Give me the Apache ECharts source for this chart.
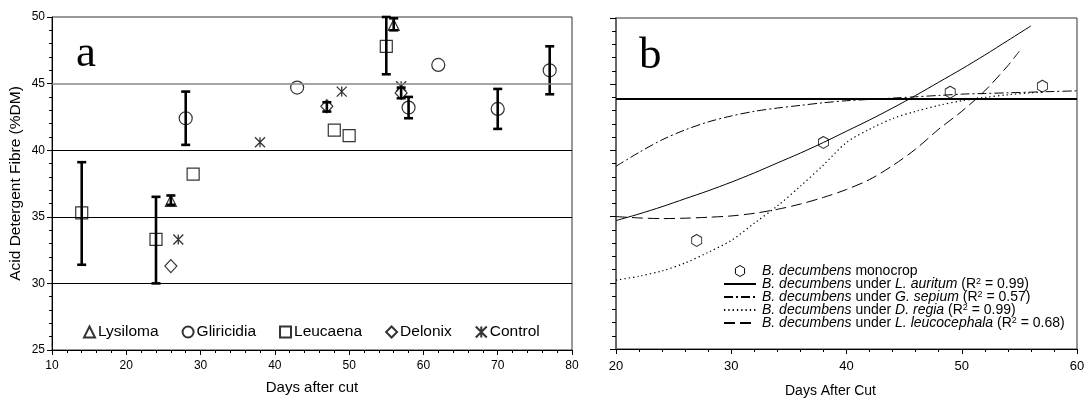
<!DOCTYPE html>
<html><head><meta charset="utf-8">
<script src="https://cdn.jsdelivr.net/npm/echarts@6/dist/echarts.min.js"></script>
<style>html,body{margin:0;padding:0;background:#fff}#c{width:1089px;height:403px}</style>
</head><body><div id="c"></div>
<script>
// ---------- Panel a data ----------
const lysiloma   = [[26,36.2],[56,49.4]];
const gliricidia = [[28,42.4],[43,44.7],[58,43.2],[62,46.4],[70,43.1],[77,46.0]];
const leucaena   = [[14,35.3],[24,33.3],[29,38.2],[48,41.5],[50,41.1],[55,47.8]];
const delonix    = [[26,31.3],[47,43.3],[57,44.3]];
const control    = [[27,33.3],[38,40.6],[49,44.4],[57,44.8]];
// [x, low, high]
const errorBarsA = [[14,31.4,39.1],[24,30.0,36.5],[26,35.9,36.6],[28,40.4,44.4],[47,42.9,43.6],
                    [55,45.7,50.0],[56,49.0,49.9],[57,43.9,44.7],[58,42.4,44.0],[70,41.6,44.6],[77,44.2,47.8]];
const gridLinesA = [30,35,40,45];
const legendNamesA = ['Lysiloma','Gliricidia','Leucaena','Delonix','Control'];

// ---------- Panel b data ----------
const monocrop = [[27,33.2],[38,40.6],[49,44.4],[57,44.85]];
const monocropMean = 43.9;
const auritum = [[20,34.7],[22,35.2],[24,35.75],[26,36.35],[28,36.95],[30,37.6],[32,38.3],[34,39.05],[36,39.8],
                 [38,40.6],[40,41.45],[42,42.3],[44,43.2],[46,44.15],[48,45.15],[50,46.15],[52,47.2],[54,48.3],[56,49.4]];
const sepium = [[20,38.8],[22,39.85],[24,40.8],[26,41.55],[28,42.15],[30,42.6],[32,42.95],[34,43.2],[36,43.4],
                [38,43.6],[40,43.75],[42,43.85],[44,43.95],[46,44.05],[48,44.15],[50,44.25],[52,44.3],[54,44.35],
                [56,44.4],[58,44.45],[60,44.5]];
const regia = [[20,30.2],[22,30.5],[24,30.9],[26,31.5],[28,32.3],[30,33.2],[32,34.5],[34,35.8],[36,37.3],
               [38,38.9],[40,40.6],[42,41.6],[44,42.4],[46,42.95],[48,43.4],[50,43.75],[52,44.0],[54,44.2],
               [56,44.35],[57,44.4]];
const leucocephala = [[20,35.0],[22,34.9],[24,34.85],[26,34.88],[28,34.95],[30,35.05],[32,35.25],[34,35.55],
                      [36,35.95],[38,36.45],[40,37.05],[42,37.8],[44,38.85],[46,40.1],[48,41.6],[50,42.95],
                      [52,44.5],[54,46.4],[55,47.5]];
const legendTextB = {
  'monocrop':     '{i|B. decumbens} monocrop',
  'auritum':      '{i|B. decumbens} under {i|L. auritum} (R{s|2} = 0.99)',
  'sepium':       '{i|B. decumbens} under {i|G. sepium} (R{s|2} = 0.57)',
  'regia':        '{i|B. decumbens} under {i|D. regia} (R{s|2} = 0.99)',
  'leucocephala': '{i|B. decumbens} under {i|L. leucocephala} (R{s|2} = 0.68)'
};

const F = 'Liberation Sans, Arial, sans-serif';
const hexPath = 'path://M5,0L10,3L10,9L5,12L0,9L0,3Z';
const starPath = 'path://M0,0L10,10M10,0L0,10M5,0L5,10';
const hollow = {color:'rgba(255,255,255,0)', borderColor:'#000', borderWidth:1.2};

const chart = echarts.init(document.getElementById('c'), null, {renderer:'canvas'});

function errRender(params, api){
  const x = api.value(0), lo = api.value(1), hi = api.value(2);
  const p1 = api.coord([x, lo]), p2 = api.coord([x, hi]);
  const w = 4.5;
  const st = {stroke:'#000', lineWidth:2.6};
  return {type:'group', children:[
    {type:'line', shape:{x1:p1[0],y1:p1[1],x2:p2[0],y2:p2[1]}, style:st},
    {type:'line', shape:{x1:p1[0]-w,y1:p1[1],x2:p1[0]+w,y2:p1[1]}, style:st},
    {type:'line', shape:{x1:p2[0]-w,y1:p2[1],x2:p2[0]+w,y2:p2[1]}, style:st}
  ]};
}

const option = {
  animation:false,
  backgroundColor:'#fff',
  title:[
    {text:'a', left:71, top:27, textStyle:{fontFamily:'Liberation Serif, Times New Roman, serif', fontSize:45, fontWeight:'normal', color:'#000'}},
    {text:'b', left:634, top:29, textStyle:{fontFamily:'Liberation Serif, Times New Roman, serif', fontSize:45, fontWeight:'normal', color:'#000'}}
  ],
  grid:[
    {left:52, top:17, width:520, height:333, show:true, borderColor:'#333', borderWidth:1, backgroundColor:'rgba(0,0,0,0)'},
    {left:616, top:18, width:461, height:334, show:true, borderColor:'#333', borderWidth:1, backgroundColor:'rgba(0,0,0,0)'}
  ],
  legend:[
    {
      data: legendNamesA,
      left:78, top:319, orient:'horizontal', itemGap:23, itemWidth:11, itemHeight:11,
      textStyle:{fontFamily:F, fontSize:15.5, color:'#000', padding:[0,0,0,-2]},
      selectedMode:false
    },
    {
      data:[{name:'monocrop', icon:hexPath, itemStyle:{opacity:1, color:'rgba(255,255,255,0)', borderColor:'#000', borderWidth:1}},
            'auritum','sepium','regia','leucocephala'],
      left:718, top:259, orient:'vertical', itemGap:-1, itemWidth:32, itemHeight:11,
      selectedMode:false,
      itemStyle:{opacity:0},
      formatter: function(n){ return legendTextB[n]; },
      textStyle:{fontFamily:F, fontSize:14, color:'#000', lineHeight:13, padding:[0,0,0,1],
        rich:{
          i:{fontStyle:'italic', fontFamily:F, fontSize:14, lineHeight:13},
          s:{fontSize:9, fontFamily:F, verticalAlign:'top', lineHeight:7}
        }}
    }
  ],
  xAxis:[
    {gridIndex:0, type:'value', min:10, max:80, interval:10,
     axisLine:{lineStyle:{color:'#000', width:1}},
     axisTick:{show:true, length:5, lineStyle:{color:'#000'}},
     minorTick:{show:true, splitNumber:5, length:3, lineStyle:{color:'#000'}},
     splitLine:{show:false},
     axisLabel:{fontFamily:F, fontSize:12, color:'#000', margin:10},
     name:'Days after cut', nameLocation:'middle', nameGap:30,
     nameTextStyle:{fontFamily:F, fontSize:15, color:'#000'}},
    {gridIndex:1, type:'value', min:20, max:60, interval:10,
     axisLine:{lineStyle:{color:'#000', width:1}},
     axisTick:{show:true, length:5, lineStyle:{color:'#000'}},
     minorTick:{show:true, splitNumber:5, length:3, lineStyle:{color:'#000'}},
     splitLine:{show:false},
     axisLabel:{fontFamily:F, fontSize:13, color:'#000', margin:11},
     name:'Days After Cut', nameLocation:'middle', nameGap:35,
     nameTextStyle:{fontFamily:F, fontSize:14, color:'#000', padding:[0,32,0,0]}}
  ],
  yAxis:[
    {gridIndex:0, type:'value', min:25, max:50, interval:5,
     axisLine:{show:true, lineStyle:{color:'#000', width:1}},
     axisTick:{show:true, length:5, lineStyle:{color:'#000'}},
     minorTick:{show:true, splitNumber:5, length:3, lineStyle:{color:'#000'}},
     splitLine:{show:false},
     axisLabel:{fontFamily:F, fontSize:12, color:'#000', margin:7},
     name:'Acid Detergent Fibre (%DM)', nameLocation:'middle', nameGap:28,
     nameTextStyle:{fontFamily:F, fontSize:15.5, color:'#000'}},
    {gridIndex:1, type:'value', min:25, max:50, interval:5,
     axisLine:{show:true, lineStyle:{color:'#666', width:2}},
     axisTick:{show:true, length:6, lineStyle:{color:'#000'}},
     minorTick:{show:true, splitNumber:5, length:4, lineStyle:{color:'#000'}},
     splitLine:{show:false},
     axisLabel:{show:false}}
  ],
  series:[
    {name:'errA', type:'custom', xAxisIndex:0, yAxisIndex:0, renderItem:errRender,
     encode:{x:0, y:[1,2]}, data:errorBarsA, z:1, silent:true},
    {name:'Lysiloma', type:'scatter', xAxisIndex:0, yAxisIndex:0, symbol:'triangle', symbolSize:[11,11],
     itemStyle:hollow, data:lysiloma, z:3,
     markLine:{silent:true, symbol:'none', label:{show:false},
       lineStyle:{color:'#000', width:1, type:'solid'},
       data: gridLinesA.map(v => ({yAxis:v, lineStyle:{color: v===45 ? '#888' : '#000', width: v===45?1.5:1, type:'solid'}}))}},
    {name:'Gliricidia', type:'scatter', xAxisIndex:0, yAxisIndex:0, symbol:'circle', symbolSize:13,
     itemStyle:hollow, data:gliricidia, z:3},
    {name:'Leucaena', type:'scatter', xAxisIndex:0, yAxisIndex:0, symbol:'rect', symbolSize:12,
     itemStyle:hollow, data:leucaena, z:3},
    {name:'Delonix', type:'scatter', xAxisIndex:0, yAxisIndex:0, symbol:'diamond', symbolSize:[12,13],
     itemStyle:hollow, data:delonix, z:3},
    {name:'Control', type:'scatter', xAxisIndex:0, yAxisIndex:0, symbol:starPath, symbolSize:10,
     itemStyle:{color:'rgba(0,0,0,0)', borderColor:'#000', borderWidth:1.3}, data:control, z:3},

    {name:'monocrop', type:'scatter', xAxisIndex:1, yAxisIndex:1, symbol:hexPath, symbolSize:[10,12],
     itemStyle:{color:'rgba(255,255,255,0)', borderColor:'#000', borderWidth:1}, data:monocrop, z:4,
     markLine:{silent:true, symbol:'none', label:{show:false},
       lineStyle:{color:'#000', width:2.2, type:'solid'}, data:[{yAxis:monocropMean}]}},
    {name:'auritum', type:'line', xAxisIndex:1, yAxisIndex:1, data:auritum, smooth:0.3, symbol:'none', showSymbol:false,
     lineStyle:{color:'#000', width:1, type:'solid'}, itemStyle:{color:'#000'}},
    {name:'sepium', type:'line', xAxisIndex:1, yAxisIndex:1, data:sepium, smooth:0.3, symbol:'none', showSymbol:false,
     lineStyle:{color:'#000', width:1, type:[9,3,2,3]}, itemStyle:{color:'#000'}},
    {name:'regia', type:'line', xAxisIndex:1, yAxisIndex:1, data:regia, smooth:0.3, symbol:'none', showSymbol:false,
     lineStyle:{color:'#000', width:1.2, type:[1.3,3]}, itemStyle:{color:'#000'}},
    {name:'leucocephala', type:'line', xAxisIndex:1, yAxisIndex:1, data:leucocephala, smooth:0.3, symbol:'none', showSymbol:false,
     lineStyle:{color:'#000', width:1, type:[11,5]}, itemStyle:{color:'#000'}}
  ]
};
chart.setOption(option);
</script></body></html>
